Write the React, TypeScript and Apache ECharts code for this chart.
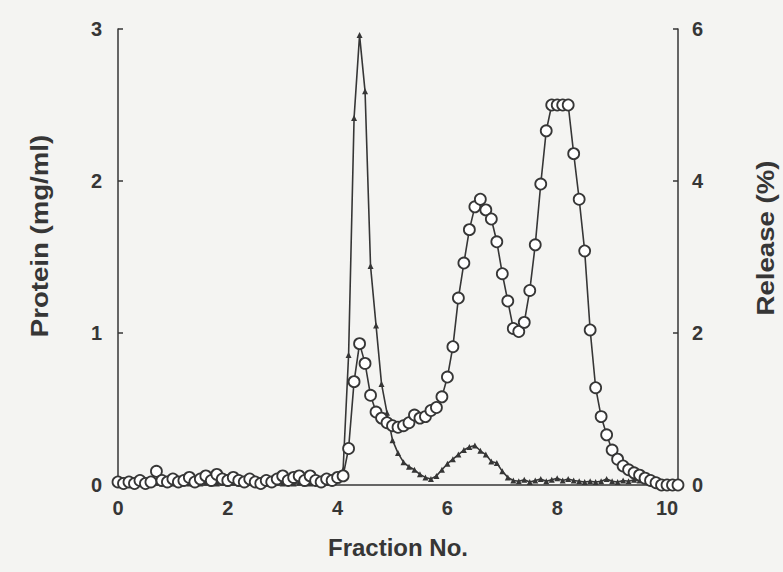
import React, { useEffect, useRef } from "react";
import * as echarts from "echarts";

// Fraction positions (x axis, shared by both profiles)
const fractions = [
  0.0, 0.1, 0.2, 0.3, 0.4, 0.5, 0.6, 0.7, 0.8, 0.9,
  1.0, 1.1, 1.2, 1.3, 1.4, 1.5, 1.6, 1.7, 1.8, 1.9,
  2.0, 2.1, 2.2, 2.3, 2.4, 2.5, 2.6, 2.7, 2.8, 2.9,
  3.0, 3.1, 3.2, 3.3, 3.4, 3.5, 3.6, 3.7, 3.8, 3.9,
  4.0, 4.1, 4.2, 4.3, 4.4, 4.5, 4.6, 4.7, 4.8, 4.9,
  5.0, 5.1, 5.2, 5.3, 5.4, 5.5, 5.6, 5.7, 5.8, 5.9,
  6.0, 6.1, 6.2, 6.3, 6.4, 6.5, 6.6, 6.7, 6.8, 6.9,
  7.0, 7.1, 7.2, 7.3, 7.4, 7.5, 7.6, 7.7, 7.8, 7.9,
  8.0, 8.1, 8.2, 8.3, 8.4, 8.5, 8.6, 8.7, 8.8, 8.9,
  9.0, 9.1, 9.2, 9.3, 9.4, 9.5, 9.6, 9.7, 9.8, 9.9,
  10.0, 10.1, 10.2,
];

// Protein concentration (mg/ml), open circles, left axis
const protein = [
  0.02, 0.01, 0.02, 0.01, 0.03, 0.01, 0.02, 0.09, 0.03, 0.02,
  0.04, 0.02, 0.03, 0.05, 0.02, 0.04, 0.06, 0.03, 0.07, 0.04,
  0.03, 0.05, 0.03, 0.02, 0.04, 0.02, 0.01, 0.03, 0.02, 0.04,
  0.06, 0.03, 0.05, 0.06, 0.03, 0.06, 0.03, 0.02, 0.04, 0.03,
  0.05, 0.06, 0.24, 0.68, 0.93, 0.8, 0.59, 0.48, 0.44, 0.41,
  0.39, 0.38, 0.39, 0.41, 0.46, 0.44, 0.45, 0.49, 0.51, 0.58,
  0.71, 0.91, 1.23, 1.46, 1.68, 1.83, 1.88, 1.81, 1.75, 1.6,
  1.39, 1.21, 1.03, 1.01, 1.07, 1.28, 1.58, 1.98, 2.33, 2.5,
  2.5, 2.5, 2.5, 2.18, 1.88, 1.54, 1.02, 0.64, 0.45, 0.33,
  0.23, 0.17, 0.125, 0.1, 0.08, 0.065, 0.045, 0.03, 0.015, 0,
  0, 0, 0,
];

// Release (%), filled triangles, right axis
const release = [
  0.03, 0.02, 0.03, 0.02, 0.02, 0.03, 0.02, 0.03, 0.02, 0.03,
  0.02, 0.02, 0.03, 0.02, 0.03, 0.02, 0.03, 0.02, 0.02, 0.03,
  0.02, 0.03, 0.02, 0.02, 0.03, 0.02, 0.03, 0.02, 0.02, 0.03,
  0.02, 0.03, 0.02, 0.03, 0.02, 0.02, 0.03, 0.02, 0.03, 0.04,
  0.06, 0.2, 1.71, 4.83, 5.92, 5.18, 2.88, 2.1, 1.33, 0.95,
  0.59, 0.42, 0.3, 0.24, 0.2, 0.14, 0.1, 0.08, 0.12, 0.2,
  0.28, 0.34, 0.4, 0.46, 0.5, 0.52, 0.45, 0.4, 0.31, 0.29,
  0.18, 0.1, 0.06, 0.05, 0.07, 0.04, 0.06, 0.08, 0.05, 0.07,
  0.09, 0.06, 0.08, 0.06, 0.05, 0.04, 0.05, 0.04, 0.05, 0.08,
  0.05, 0.04, 0.06, 0.05, 0.07, 0.06, 0.05, 0.04, 0.03, 0.02,
  0.01, 0,
];

const xTicks = [0, 2, 4, 6, 8, 10];

const INK = "#363636";
const FONT = "'Liberation Sans', Arial, Helvetica, sans-serif";

export default function App() {
  const ref = useRef<HTMLDivElement>(null);

  useEffect(() => {
    if (!ref.current) return;
    const chart = echarts.init(ref.current, undefined, { renderer: "svg" });

    const proteinData = protein.map((v, i) => [fractions[i], v]);
    const releaseData = release.map((v, i) => [fractions[i], v]);

    const labelStyle = {
      color: INK,
      fontFamily: FONT,
      fontWeight: "bold" as const,
      fontSize: 20,
    };

    chart.setOption({
      animation: false,
      backgroundColor: "#f4f4f2",
      grid: {
        left: 118,
        right: 105,
        top: 29,
        bottom: 87,
        containLabel: false,
        outerBoundsMode: "none",
      },
      xAxis: {
        type: "value",
        min: 0,
        max: 10.2,
        interval: 2,
        name: "Fraction No.",
        nameLocation: "middle",
        nameGap: 50,
        nameTextStyle: { ...labelStyle, fontSize: 24 },
        axisLine: { show: true, lineStyle: { color: INK, width: 1.5 } },
        axisTick: { show: false },
        splitLine: { show: false },
        axisLabel: {
          ...labelStyle,
          margin: 13,
          showMaxLabel: false,
          formatter: (v: number) => (xTicks.includes(v) ? String(v) : ""),
        },
      },
      yAxis: [
        {
          type: "value",
          min: 0,
          max: 3,
          interval: 1,
          position: "left",
          axisLine: { show: true, lineStyle: { color: INK, width: 1.5 } },
          axisTick: { show: true, inside: true, length: 5, lineStyle: { color: INK, width: 1.5 } },
          splitLine: { show: false },
          axisLabel: { ...labelStyle, margin: 16 },
        },
        {
          type: "value",
          min: 0,
          max: 6,
          interval: 2,
          position: "right",
          axisLine: { show: true, lineStyle: { color: INK, width: 1.5 } },
          axisTick: { show: true, inside: true, length: 5, lineStyle: { color: INK, width: 1.5 } },
          splitLine: { show: false },
          axisLabel: { ...labelStyle, margin: 14 },
        },
      ],
      graphic: [
        {
          type: "text",
          x: 40,
          y: 236,
          rotation: Math.PI / 2,
          scaleX: 1.2,
          style: {
            text: "Protein (mg/ml)",
            fill: INK,
            font: `bold 23px ${FONT}`,
            textAlign: "center",
            textVerticalAlign: "middle",
          },
        },
        {
          type: "text",
          x: 766,
          y: 238,
          rotation: Math.PI / 2,
          scaleX: 1.2,
          style: {
            text: "Release (%)",
            fill: INK,
            font: `bold 23px ${FONT}`,
            textAlign: "center",
            textVerticalAlign: "middle",
          },
        },
      ],
      series: [
        {
          name: "Release",
          type: "line",
          yAxisIndex: 1,
          data: releaseData,
          symbol: "triangle",
          symbolSize: 6,
          showAllSymbol: true,
          itemStyle: { color: INK },
          lineStyle: { color: INK, width: 1.6 },
          z: 2,
        },
        {
          name: "Protein",
          type: "line",
          yAxisIndex: 0,
          data: proteinData,
          symbol: "circle",
          symbolSize: 11,
          showAllSymbol: true,
          itemStyle: { color: "#ffffff", borderColor: INK, borderWidth: 1.8 },
          lineStyle: { color: INK, width: 1.6 },
          z: 3,
        },
      ],
    });

    return () => chart.dispose();
  }, []);

  return (
    <div
      ref={ref}
      style={{ position: "fixed", left: 0, top: 0, width: 783, height: 572 }}
    />
  );
}
